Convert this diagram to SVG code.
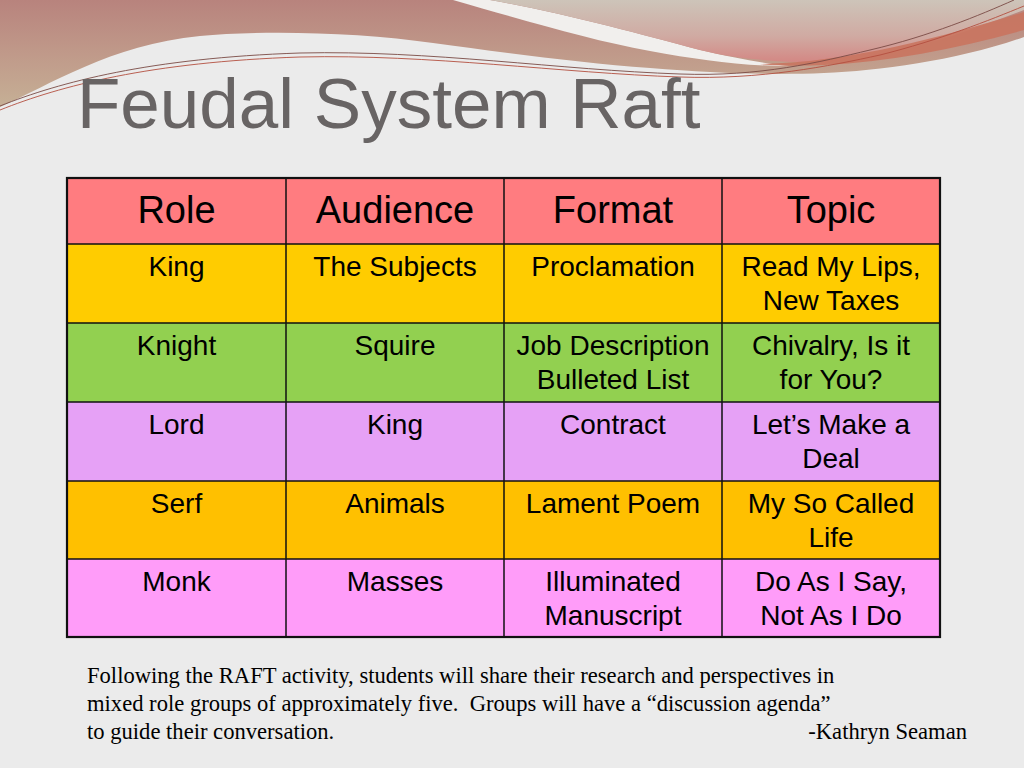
<svg xmlns="http://www.w3.org/2000/svg" width="1024" height="768" viewBox="0 0 1024 768">
<defs>
<linearGradient id="tanG" x1="0" y1="0" x2="0" y2="110" gradientUnits="userSpaceOnUse">
<stop offset="0" stop-color="#b8837d"/>
<stop offset="0.5" stop-color="#c09a8a"/>
<stop offset="1" stop-color="#c6b196"/>
</linearGradient>
<linearGradient id="pinkG" x1="0" y1="0" x2="0" y2="66" gradientUnits="userSpaceOnUse">
<stop offset="0" stop-color="#cdc4b9"/>
<stop offset="0.55" stop-color="#d0aaa2"/>
<stop offset="1" stop-color="#d4827f"/>
</linearGradient>
<style>
.cell{stroke:none}
.hd{fill:#ff7c80}
.r1{fill:#ffcc00}
.r2{fill:#92d050}
.r3{fill:#e6a1f6}
.r4{fill:#ffc000}
.r5{fill:#ff9cf9}
.ht{font-family:"Liberation Sans",Arial,sans-serif;font-size:38px;text-anchor:middle;fill:#000}
.ct{font-family:"Liberation Sans",Arial,sans-serif;font-size:28px;text-anchor:middle;fill:#000}
.grid{stroke:#111;stroke-width:1.5;fill:none}
.note{font-family:"Liberation Serif","Times New Roman",serif;font-size:22.6px;fill:#000;white-space:pre}
</style>
</defs>
<rect width="1024" height="768" fill="#ebebeb"/>
<g id="decoration">
<path d="M0,107 C50,85 110,45 200,36 C260,30 360,32 433,43 C500,52 580,63 650,68 C720,74 780,75 824,73 C880,71 960,60 1024,37 L1024,0 L0,0 Z" fill="url(#tanG)"/>
<path d="M453,0 L490,0 C560,12 640,34 700,50 C735,58 760,63 790,66 C740,66 700,60 650,51 C590,40 530,22 453,0 Z" fill="#f1efed"/>
<path d="M490,0 C560,12 640,34 700,50 C740,60 790,63 824,62 C900,58 970,30 1024,10 L1024,0 Z" fill="url(#pinkG)"/>
<path d="M760,64 C850,63 950,35 1024,12 L1024,30 C960,48 890,62 824,65 C800,66 780,66 760,64 Z" fill="#c9745f" opacity="0.9"/>
<path d="M0,106 C60,82 150,58 300,53 C430,50 560,70 680,74 C760,77 820,62 870,50 C930,36 980,15 1014,0" fill="none" stroke="#7a4b45" stroke-width="0.9"/>
<path d="M0,110 C60,86 150,62 300,57 C430,54 560,73 680,77 C760,80 830,66 880,55 C940,40 990,20 1024,6" fill="none" stroke="#b34f40" stroke-width="0.9"/>
</g>
<g id="title">
<text x="77" y="128" font-family="'Liberation Sans',Arial,sans-serif" font-size="71" fill="#686464">Feudal System Raft</text>
</g>
<g id="table">
<g id="row-header">
<rect class="cell hd" x="67" y="178" width="873" height="66"/>
<g id="h-role"><text class="ht" x="176.5" y="223">Role</text></g>
<g id="h-audience"><text class="ht" x="395" y="223">Audience</text></g>
<g id="h-format"><text class="ht" x="613" y="223">Format</text></g>
<g id="h-topic"><text class="ht" x="831" y="223">Topic</text></g>
</g>
<g id="row-king">
<rect class="cell r1" x="67" y="244" width="873" height="79"/>
<g id="c-king"><text class="ct" x="176.5" y="276">King</text></g>
<g id="c-subjects"><text class="ct" x="395" y="276">The Subjects</text></g>
<g id="c-proclamation"><text class="ct" x="613" y="276">Proclamation</text></g>
<g id="c-taxes"><text class="ct" x="831" y="276">Read My Lips,</text><text class="ct" x="831" y="310">New Taxes</text></g>
</g>
<g id="row-knight">
<rect class="cell r2" x="67" y="323" width="873" height="79"/>
<g id="c-knight"><text class="ct" x="176.5" y="355">Knight</text></g>
<g id="c-squire"><text class="ct" x="395" y="355">Squire</text></g>
<g id="c-job"><text class="ct" x="613" y="355">Job Description</text><text class="ct" x="613" y="389">Bulleted List</text></g>
<g id="c-chivalry"><text class="ct" x="831" y="355">Chivalry, Is it</text><text class="ct" x="831" y="389">for You?</text></g>
</g>
<g id="row-lord">
<rect class="cell r3" x="67" y="402" width="873" height="79"/>
<g id="c-lord"><text class="ct" x="176.5" y="434">Lord</text></g>
<g id="c-king2"><text class="ct" x="395" y="434">King</text></g>
<g id="c-contract"><text class="ct" x="613" y="434">Contract</text></g>
<g id="c-deal"><text class="ct" x="831" y="434">Let’s Make a</text><text class="ct" x="831" y="468">Deal</text></g>
</g>
<g id="row-serf">
<rect class="cell r4" x="67" y="481" width="873" height="78"/>
<g id="c-serf"><text class="ct" x="176.5" y="513">Serf</text></g>
<g id="c-animals"><text class="ct" x="395" y="513">Animals</text></g>
<g id="c-lament"><text class="ct" x="613" y="513">Lament Poem</text></g>
<g id="c-life"><text class="ct" x="831" y="513">My So Called</text><text class="ct" x="831" y="547">Life</text></g>
</g>
<g id="row-monk">
<rect class="cell r5" x="67" y="559" width="873" height="78"/>
<g id="c-monk"><text class="ct" x="176.5" y="591">Monk</text></g>
<g id="c-masses"><text class="ct" x="395" y="591">Masses</text></g>
<g id="c-manuscript"><text class="ct" x="613" y="591">Illuminated</text><text class="ct" x="613" y="625">Manuscript</text></g>
<g id="c-doas"><text class="ct" x="831" y="591">Do As I Say,</text><text class="ct" x="831" y="625">Not As I Do</text></g>
</g>
</g>
<g id="connectors">
<path class="grid" d="M67,244 H940 M67,323 H940 M67,402 H940 M67,481 H940 M67,559 H940 M286,178 V637 M504,178 V637 M722,178 V637"/>
<rect x="67" y="178" width="873" height="459" fill="none" stroke="#111" stroke-width="2.2"/>
</g>
<g id="note">
<text class="note" x="87" y="683">Following the RAFT activity, students will share their research and perspectives in</text>
<text class="note" x="87" y="711">mixed role groups of approximately five.  Groups will have a “discussion agenda”</text>
<text class="note" x="87" y="739">to guide their conversation.</text>
<text class="note" x="967" y="739" text-anchor="end">-Kathryn Seaman</text>
</g>
</svg>
